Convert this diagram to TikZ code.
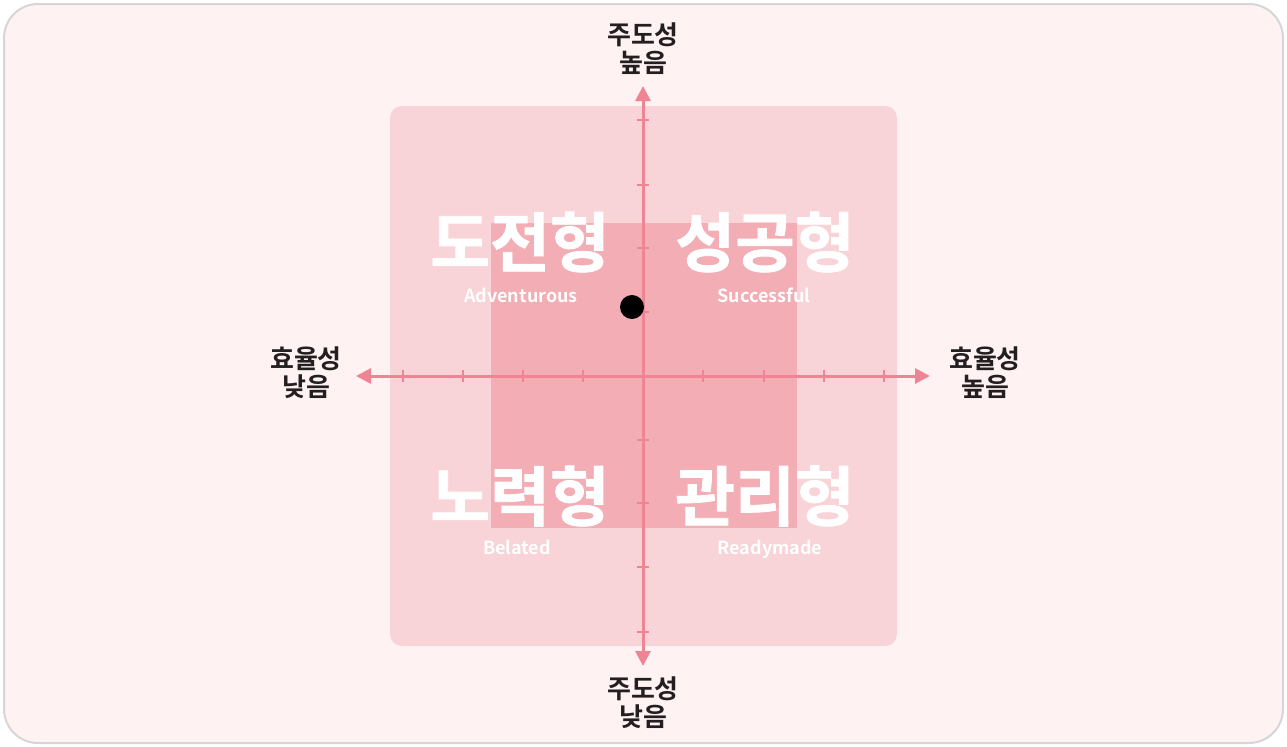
\documentclass[tikz,border=0pt]{standalone}
\usepackage{fontspec}
\setmainfont{Noto Sans CJK KR}
\newfontfamily\krbold{Noto Sans CJK KR Bold}
\newfontfamily\krheavy[FakeBold=1.2]{Noto Sans CJK KR Bold}
\usetikzlibrary{arrows.meta}
\definecolor{bgpink}{HTML}{FEF2F3}
\definecolor{framegray}{HTML}{D6D6D6}
\definecolor{outerq}{HTML}{F8D3D8}
\definecolor{innerq}{HTML}{F2ADB5}
\definecolor{axispink}{HTML}{EE8494}
\definecolor{labeldark}{HTML}{231F20}
\tikzset{
  axisline/.style={draw=axispink, line width=1.5pt, {Triangle[length=7.5pt,width=7.5pt]}-{Triangle[length=7.5pt,width=7.5pt]}},
  tickmark/.style={draw=axispink, line width=1.2pt},
  axislabel/.style={inner sep=0pt, align=center, text=labeldark, font=\krbold\fontsize{13pt}{14pt}\selectfont},
  typelabel/.style={inner sep=0pt, text=white, font=\krheavy\fontsize{32.5pt}{34pt}\selectfont},
  englabel/.style={inner sep=0pt, anchor=base, text=white, font=\krbold\fontsize{9pt}{10pt}\selectfont}
}
\begin{document}
\begin{tikzpicture}[x=0.5pt,y=-0.5pt]
\useasboundingbox (0,0) rectangle (1287,746);
\draw[framegray, fill=bgpink, line width=1pt, rounded corners=17pt] (4,4) rectangle (1283,743);
\fill[outerq, rounded corners=6pt] (390,106) rectangle (897,646);
\fill[innerq] (491,223) rectangle (797,528);
% axes
\coordinate (ctr) at (643,376);
\coordinate (atop) at (643,86);
\coordinate (abot) at (643,666);
\coordinate (alef) at (356,376);
\coordinate (arig) at (930,376);
\draw[axisline] (alef) -- (arig);
\draw[axisline] (abot) -- (atop);
\foreach \x in {403,463,523,583,703,764,824,884}
  \draw[tickmark] (\x,370) -- (\x,382);
\foreach \y in {120,185,248,312,440,503,567,632}
  \draw[tickmark] (637,\y) -- (649,\y);
% type labels
\node[typelabel] (challenge) at (520,242) {도전형};
\node[typelabel] (success) at (765,242) {성공형};
\node[typelabel] (effort) at (520,496) {노력형};
\node[typelabel] (manage) at (765,496) {관리형};
\node[englabel] (adv) at (521,302) {Adventurous};
\node[englabel] (suc) at (764,302) {Successful};
\node[englabel] (bel) at (517,554) {Belated};
\node[englabel] (rdy) at (770,554) {Readymade};
% axis labels
\node[axislabel] (lblT) at (643,49) {주도성\\높음};
\node[axislabel] (lblB) at (643,703) {주도성\\낮음};
\node[axislabel] (lblL) at (306,373) {효율성\\낮음};
\node[axislabel] (lblR) at (985,373) {효율성\\높음};
% dot
\fill[black] (632,307) circle (6pt);
\node[inner sep=0pt] (dot) at (632,307) {};
\end{tikzpicture}
\end{document}
